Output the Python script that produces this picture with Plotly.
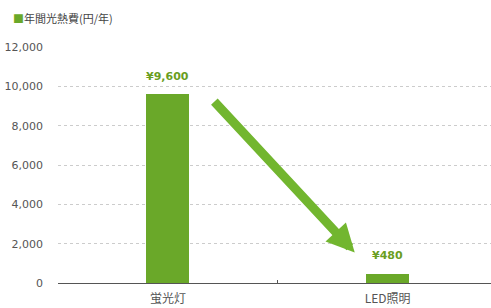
import plotly.graph_objects as go

categories = ["蛍光灯", "LED照明"]
values = [9600, 480]
value_labels = ["¥9,600", "¥480"]
tick_vals = [0, 2000, 4000, 6000, 8000, 10000, 12000]
tick_text = ["0", "2,000", "4,000", "6,000", "8,000", "10,000", "12,000"]
legend_name = "年間光熱費(円/年)"

green = "#6aa829"
label_green = "#6a9e1f"

fig = go.Figure()
fig.add_trace(go.Bar(
    x=categories, y=values, width=0.195,
    marker=dict(color=green, line=dict(width=0)),
    showlegend=False, hoverinfo="skip",
))

for c, v, t in zip(categories, values, value_labels):
    fig.add_annotation(x=c, y=v, text=t, showarrow=False, yshift=18,
                       font=dict(family="DejaVu Sans", size=11, color=label_green, weight="bold"))

# decorative arrow from first bar toward second
fig.add_annotation(x=0.85, y=1550, ax=0.205, ay=9300, xref="x", yref="y", axref="x", ayref="y",
                   text="", showarrow=True, arrowhead=2, arrowsize=0.62, arrowwidth=9,
                   arrowcolor="#72b62f", standoff=0)

# legend
fig.add_annotation(x=0, y=1, xref="paper", yref="paper", xshift=-47, yshift=29,
                   text="<span style='color:#6aa829'>■</span>" + legend_name,
                   showarrow=False, xanchor="left", yanchor="middle",
                   font=dict(family="Noto Sans CJK JP", size=11, color="#444444"))

fig.update_layout(
    width=491, height=308,
    margin=dict(l=58, r=0, t=47, b=25),
    plot_bgcolor="white", paper_bgcolor="white",
    bargap=0,
    xaxis=dict(range=[-0.5, 1.47], type="category", showgrid=False,
               showline=True, linecolor="#555555", linewidth=1,
               ticks="inside", tickson="boundaries", ticklen=3, tickcolor="#555555",
               ticklabelstandoff=5,
               tickfont=dict(family="Noto Sans CJK JP", size=12, color="#555555"),
               fixedrange=True),
    yaxis=dict(range=[0, 12000], tickvals=tick_vals, ticktext=tick_text,
               showgrid=True, gridcolor="#cccccc", griddash="dot", gridwidth=1,
               zeroline=False, showline=False, ticks="",
               ticklabelstandoff=14, fixedrange=True,
               tickfont=dict(family="DejaVu Sans", size=11, color="#555555")),
)

fig.write_html("out.html", config={"displayModeBar": False},
               post_script="document.body.style.margin='0';")
